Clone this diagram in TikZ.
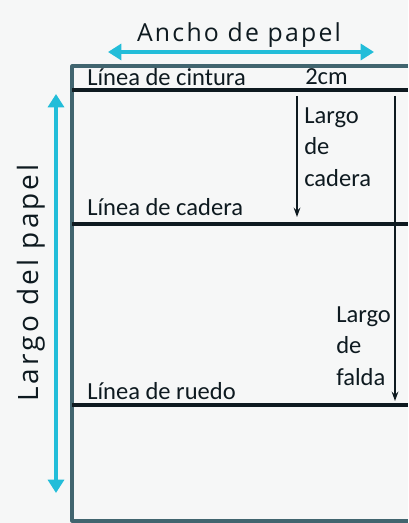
\documentclass[tikz,border=0pt]{standalone}
\usepackage{fontspec}
\setmainfont{Carlito}
\newfontfamily\titlefont{Open Sans}[LetterSpace=9]
\usetikzlibrary{arrows.meta}
\definecolor{papercyan}{HTML}{22BDD9}
\definecolor{paperedge}{HTML}{41656F}
\definecolor{paperline}{HTML}{0E1A20}
\definecolor{paperbg}{HTML}{F6F7F7}
\tikzset{
  lbl/.style={anchor=west,inner sep=0pt,font=\fontsize{18.4}{23.5}\selectfont,text=paperline},
  tit/.style={inner sep=0pt,text=paperline},
  cyanarrow/.style={{Triangle[width=12pt,length=10pt]}-{Triangle[width=12pt,length=10pt]},papercyan,line width=2.4pt},
  measarrow/.style={-{Stealth[width=5pt,length=7pt]},paperline,line width=1.5pt},
  hline/.style={paperline,line width=2.3pt}
}
\begin{document}
\begin{tikzpicture}[x=0.75pt,y=-0.75pt,line join=round]
	\useasboundingbox[fill=paperbg] (0,0) rectangle (408,523);
	% hoja de papel
	\draw[paperedge,line width=2.3pt] (408,66)--(72,66)--(72,521)--(408,521);
	\draw[hline] (72,90)--(408,90);
	\draw[hline] (72,224)--(408,224);
	\draw[hline] (72,405)--(408,405);
	% medidas del papel
	\node[tit,font=\titlefont\fontsize{18.6}{20}\selectfont] (ancho) at (239,35) {Ancho de papel};
	\coordinate (ancho-l) at (108,52);
	\coordinate (ancho-r) at (374,52);
	\draw[cyanarrow] (ancho-l)--(ancho-r);
	\node[tit,rotate=90,font=\titlefont\addfontfeatures{LetterSpace=11}\fontsize{21}{24}\selectfont] (largo) at (31,283) {Largo del papel};
	\coordinate (largo-t) at (56,94);
	\coordinate (largo-b) at (56,493);
	\draw[cyanarrow] (largo-t)--(largo-b);
	% lineas
	\node[lbl] (cintura) at (87,77) {Línea de cintura};
	\node[lbl] (dos) at (305,77) {2cm};
	\node[lbl] (cadera) at (87,207) {Línea de cadera};
	\node[lbl] (ruedo) at (87,391) {Línea de ruedo};
	% largos
	\node[lbl,align=left] (lcadera) at (304,147) {Largo\\de\\cadera};
	\node[lbl,align=left] (lfalda) at (336,346) {Largo\\de\\falda};
	\coordinate (cad-t) at (297,96);
	\coordinate (cad-b) at (297,217);
	\coordinate (fal-t) at (395,96);
	\coordinate (fal-b) at (395,401);
	\draw[measarrow] (cad-t)--(cad-b);
	\draw[measarrow] (fal-t)--(fal-b);
\end{tikzpicture}
\end{document}
